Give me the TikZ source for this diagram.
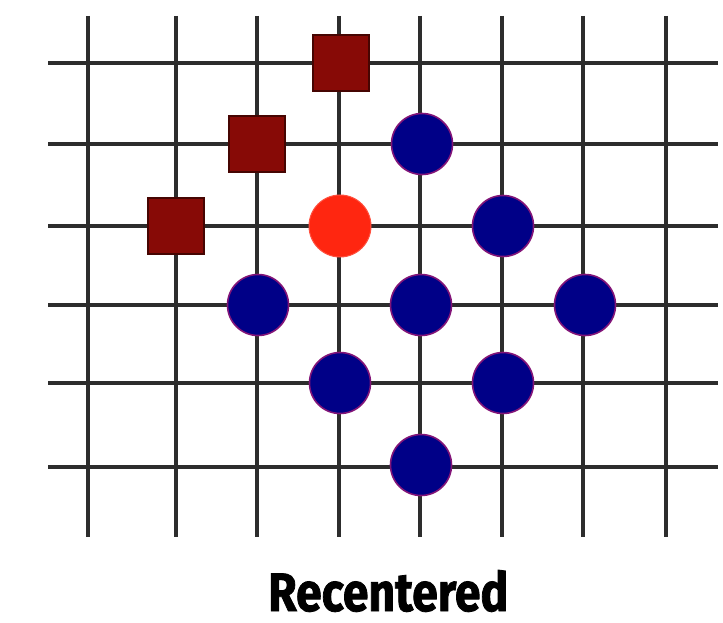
\documentclass[tikz,border=0pt]{standalone}
\usepackage{fontspec}
\setmainfont{Fira Sans}
\usepackage{graphicx}
\definecolor{gridc}{RGB}{45,45,45}
\definecolor{bluec}{RGB}{0,0,135}
\definecolor{blueedge}{RGB}{130,20,120}
\definecolor{redc}{RGB}{255,38,16}
\definecolor{sqc}{RGB}{135,10,6}
\definecolor{sqedge}{RGB}{70,5,2}
\tikzset{
  gridline/.style={draw=gridc, line width=3.8pt},
  bluedot/.style={circle, fill=bluec, draw=blueedge, line width=1.6pt, minimum size=61pt, inner sep=0pt},
  reddot/.style={circle, fill=redc, draw=redc!80!white, line width=1pt, minimum size=62pt, inner sep=0pt},
  sqmark/.style={rectangle, fill=sqc, draw=sqedge, line width=1.4pt, minimum size=56pt, inner sep=0pt},
  caption/.style={inner sep=0pt, anchor=base west}
}
\begin{document}
\begin{tikzpicture}[x=1pt,y=-1pt]
\useasboundingbox (0,0) rectangle (723,623);
\fill[white] (0,0) rectangle (723,623);
% grid
\foreach \gx in {88,176,257,339,420,502,583,666}
  \draw[gridline] (\gx,16) -- (\gx,537);
\foreach \gy in {63,144,226,305,383,467}
  \draw[gridline] (48,\gy) -- (718,\gy);
% squares
\node[sqmark] (s1) at (176,226) {};
\node[sqmark] (s2) at (257,144) {};
\node[sqmark] (s3) at (341,63) {};
% red dot
\node[reddot] (r) at (340,226) {};
% blue dots
\node[bluedot] (b1) at (422,144) {};
\node[bluedot] (b2) at (503,226) {};
\node[bluedot] (b3) at (258,305) {};
\node[bluedot] (b4) at (421,305) {};
\node[bluedot] (b5) at (585,305) {};
\node[bluedot] (b6) at (340,383) {};
\node[bluedot] (b7) at (503,383) {};
\node[bluedot] (b8) at (421,465) {};
% caption
\node[caption] (cap) at (268,611) {\resizebox{240pt}{41pt}{\bfseries\addfontfeature{FakeBold=1.6}Recentered}};
\end{tikzpicture}
\end{document}
